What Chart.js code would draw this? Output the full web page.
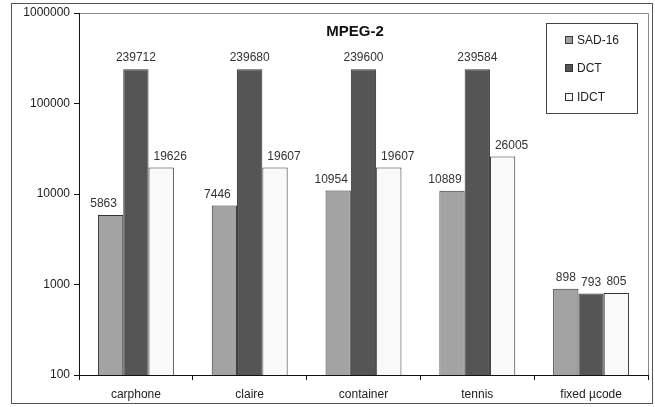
<!DOCTYPE html>
<html>
<head>
<meta charset="UTF-8">
<title>MPEG-2</title>
<script src="https://cdn.jsdelivr.net/npm/chart.js"></script>
<style>
  html, body { margin: 0; padding: 0; background: #fff; }
  #wrap { width: 655px; height: 407px; }
</style>
</head>
<body>
<div id="wrap"><canvas id="mpegChart" width="655" height="407"></canvas></div>
<script>
// datos del grafico
const categories = ['carphone', 'claire', 'container', 'tennis', 'fixed \u00b5code'];
const sad16 = [5863, 7446, 10954, 10889, 898];
const dct = [239712, 239680, 239600, 239584, 793];
const idct = [19626, 19607, 19607, 26005, 805];
const yTicks = [100, 1000, 10000, 100000, 1000000];
const seriesNames = ['SAD-16', 'DCT', 'IDCT'];
const chartTitle = 'MPEG-2';

const FONT = 'Arial, "Liberation Sans", sans-serif';
// desplazamiento horizontal de la etiqueta cuando la barra vecina es mas alta
const labelShift = [-7, 0, 9];

// marco exterior y borde del area de trazado
const framePlugin = {
  id: 'frame',
  beforeDraw(chart) {
    const ctx = chart.ctx;
    const a = chart.chartArea;
    ctx.save();
    ctx.fillStyle = '#fff';
    ctx.fillRect(0, 0, chart.width, chart.height);
    ctx.strokeStyle = '#555';
    ctx.lineWidth = 1;
    ctx.strokeRect(11.5, 3.5, 641, 400);
    ctx.strokeStyle = '#888';
    ctx.beginPath();
    ctx.moveTo(Math.round(a.left) + 0.5, Math.round(a.top) + 0.5);
    ctx.lineTo(Math.round(a.right) + 0.5, Math.round(a.top) + 0.5);
    ctx.lineTo(Math.round(a.right) + 0.5, Math.round(a.bottom) + 0.5);
    ctx.stroke();
    ctx.restore();
  }
};

// etiquetas de valor encima de cada barra, titulo y leyenda
const labelsPlugin = {
  id: 'valueLabels',
  afterDatasetsDraw(chart) {
    const ctx = chart.ctx;
    const mid = chart.data.datasets[1].data;
    ctx.save();
    ctx.font = '12px ' + FONT;
    ctx.fillStyle = '#333';
    ctx.textAlign = 'center';
    ctx.textBaseline = 'bottom';
    chart.data.datasets.forEach((ds, i) => {
      chart.getDatasetMeta(i).data.forEach((bar, j) => {
        const dx = mid[j] > ds.data[j] ? labelShift[i] : 0;
        ctx.fillText(String(ds.data[j]), bar.x + dx, bar.y - 5);
      });
    });

    // titulo
    ctx.font = 'bold 15px ' + FONT;
    ctx.fillStyle = '#111';
    ctx.textBaseline = 'middle';
    ctx.fillText(chartTitle, 355, 32);

    // leyenda
    ctx.strokeStyle = '#444';
    ctx.lineWidth = 1;
    ctx.fillStyle = '#fff';
    ctx.fillRect(546.5, 23.5, 91, 90);
    ctx.strokeRect(546.5, 23.5, 91, 90);
    const rows = [40, 68, 97];
    ctx.font = '12px ' + FONT;
    ctx.textAlign = 'left';
    chart.data.datasets.forEach((ds, i) => {
      const y = rows[i];
      ctx.fillStyle = ds.backgroundColor;
      ctx.fillRect(565.5, y - 3.5, 7, 7);
      ctx.strokeStyle = '#333';
      ctx.strokeRect(565.5, y - 3.5, 7, 7);
      ctx.fillStyle = '#222';
      ctx.fillText(ds.label, 577, y + 1);
    });
    ctx.restore();
  }
};

function barSet(label, data, color) {
  return {
    label: label,
    data: data,
    backgroundColor: color,
    borderColor: '#333',
    borderWidth: 1,
    borderSkipped: 'bottom',
    categoryPercentage: 0.667,
    barPercentage: 1.0
  };
}

new Chart(document.getElementById('mpegChart'), {
  type: 'bar',
  data: {
    labels: categories,
    datasets: [
      barSet(seriesNames[0], sad16, '#a3a3a3'),
      barSet(seriesNames[1], dct, '#555555'),
      barSet(seriesNames[2], idct, '#f9f9f9')
    ]
  },
  options: {
    responsive: false,
    animation: false,
    devicePixelRatio: 1,
    layout: { padding: { left: 11, top: 13, right: 7, bottom: 0 } },
    plugins: {
      legend: { display: false },
      title: { display: false },
      tooltip: { enabled: false }
    },
    scales: {
      x: {
        offset: true,
        grid: { offset: true, drawOnChartArea: false, tickLength: 5, color: '#111' },
        border: { color: '#111', width: 1 },
        ticks: { color: '#222', font: { family: FONT, size: 12 }, padding: 7, maxRotation: 0 },
        afterFit(scale) { scale.height = 32; }
      },
      y: {
        type: 'logarithmic',
        min: 100,
        max: 1000000,
        afterBuildTicks(scale) { scale.ticks = yTicks.map(v => ({ value: v })); },
        grid: { drawOnChartArea: false, tickLength: 5, color: '#111' },
        border: { color: '#111', width: 1 },
        ticks: {
          color: '#222',
          font: { family: FONT, size: 12 },
          padding: 4,
          callback: (v) => String(v)
        },
        afterFit(scale) { scale.width = 68; }
      }
    }
  },
  plugins: [framePlugin, labelsPlugin]
});
</script>
</body>
</html>
